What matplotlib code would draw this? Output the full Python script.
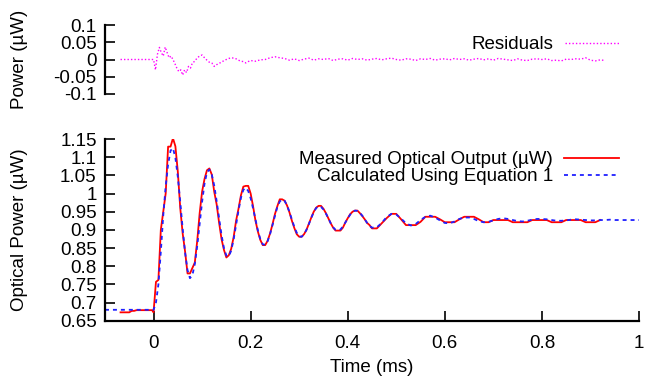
import matplotlib
matplotlib.use('Agg')
import matplotlib.pyplot as plt

plt.rcParams['font.family'] = ['Liberation Sans', 'DejaVu Sans']
plt.rcParams['font.size'] = 13.5

# measured optical output (uW)
t_meas = [-0.068, -0.06, -0.05, -0.045, -0.04, -0.035, -0.03, -0.02, -0.01, -0.003, 0.0,
          0.005, 0.01, 0.015, 0.02, 0.025, 0.03, 0.035, 0.04, 0.045, 0.05, 0.055, 0.06,
          0.065, 0.07, 0.075, 0.08, 0.085, 0.09, 0.095, 0.10, 0.105, 0.11, 0.115, 0.12,
          0.125, 0.13, 0.135, 0.14, 0.145, 0.15, 0.155, 0.16, 0.165, 0.17, 0.175, 0.18,
          0.185, 0.19, 0.195, 0.20, 0.205, 0.21, 0.215, 0.22, 0.225, 0.23, 0.235, 0.24,
          0.245, 0.25, 0.255, 0.26, 0.265, 0.27, 0.275, 0.28, 0.285, 0.29, 0.295, 0.30,
          0.305, 0.31, 0.315, 0.32, 0.325, 0.33, 0.335, 0.34, 0.345, 0.35, 0.355, 0.36,
          0.365, 0.37, 0.375, 0.38, 0.385, 0.39, 0.395, 0.40, 0.405, 0.41, 0.415, 0.42,
          0.425, 0.43, 0.435, 0.44, 0.445, 0.45, 0.455, 0.46, 0.47, 0.48, 0.49, 0.50,
          0.51, 0.52, 0.53, 0.54, 0.55, 0.56, 0.57, 0.58, 0.59, 0.60, 0.61, 0.62, 0.63,
          0.64, 0.65, 0.66, 0.67, 0.68, 0.69, 0.70, 0.71, 0.72, 0.73, 0.74, 0.75, 0.76,
          0.77, 0.78, 0.79, 0.80, 0.81, 0.82, 0.83, 0.84, 0.85, 0.86, 0.87, 0.88, 0.89,
          0.90, 0.91, 0.92]
p_meas = [0.673, 0.673, 0.673, 0.677, 0.677, 0.679, 0.679, 0.679, 0.679, 0.679, 0.673,
          0.757, 0.762, 0.90, 0.95, 1.00, 1.129, 1.129, 1.152, 1.13, 1.06, 0.96, 0.89,
          0.84, 0.78, 0.78, 0.795, 0.81, 0.87, 0.946, 1.005, 1.04, 1.064, 1.069, 1.052,
          1.005, 0.97, 0.92, 0.875, 0.845, 0.824, 0.83, 0.848, 0.88, 0.925, 0.958, 0.995,
          1.019, 1.021, 1.021, 1.0, 0.965, 0.925, 0.895, 0.872, 0.858, 0.858, 0.87, 0.89,
          0.915, 0.943, 0.965, 0.984, 0.984, 0.98, 0.967, 0.948, 0.925, 0.905, 0.888, 0.881,
          0.881, 0.888, 0.90, 0.917, 0.934, 0.95, 0.961, 0.966, 0.966, 0.958, 0.946, 0.932,
          0.918, 0.906, 0.898, 0.898, 0.898, 0.906, 0.92, 0.932, 0.943, 0.95, 0.953, 0.953,
          0.946, 0.938, 0.929, 0.919, 0.913, 0.904, 0.904, 0.904, 0.918, 0.932, 0.944, 0.944,
          0.929, 0.913, 0.913, 0.913, 0.922, 0.936, 0.936, 0.936, 0.929, 0.921, 0.921, 0.921, 0.929,
          0.936, 0.936, 0.936, 0.929, 0.921, 0.921, 0.927, 0.927, 0.927, 0.927, 0.921, 0.921, 0.921,
          0.921, 0.927, 0.927, 0.927, 0.927, 0.921, 0.921, 0.921, 0.927, 0.927, 0.927, 0.927, 0.921,
          0.921, 0.921, 0.927]

# curve calculated with equation 1
t_calc = [-0.1, 0.0, 0.005, 0.01, 0.015, 0.02, 0.025, 0.03, 0.035, 0.04, 0.045, 0.05,
          0.055, 0.06, 0.065, 0.07, 0.075, 0.08, 0.085, 0.09, 0.095, 0.10, 0.105, 0.11,
          0.115, 0.12, 0.125, 0.13, 0.135, 0.14, 0.145, 0.15, 0.155, 0.16, 0.165, 0.17,
          0.175, 0.18, 0.185, 0.19, 0.195, 0.20, 0.205, 0.21, 0.215, 0.22, 0.225, 0.23,
          0.235, 0.24, 0.245, 0.25, 0.255, 0.26, 0.265, 0.27, 0.275, 0.28, 0.285, 0.29,
          0.295, 0.30, 0.305, 0.31, 0.315, 0.32, 0.325, 0.33, 0.335, 0.34, 0.345, 0.35,
          0.355, 0.36, 0.365, 0.37, 0.375, 0.38, 0.385, 0.39, 0.395, 0.40, 0.405, 0.41,
          0.415, 0.42, 0.425, 0.43, 0.435, 0.44, 0.445, 0.45, 0.46, 0.47, 0.48, 0.49,
          0.50, 0.51, 0.52, 0.53, 0.54, 0.55, 0.56, 0.57, 0.58, 0.59, 0.60, 0.61, 0.62,
          0.63, 0.64, 0.65, 0.66, 0.67, 0.68, 0.69, 0.70, 0.71, 0.72, 0.73, 0.74, 0.75,
          0.76, 0.77, 0.78, 0.79, 0.80, 0.81, 0.82, 0.83, 0.84, 0.85, 0.86, 0.87, 0.88,
          0.89, 0.90, 0.91, 0.92, 0.93, 0.94, 0.95, 0.96, 0.97, 0.98, 0.99, 1.0]
p_calc = [0.68, 0.68, 0.70, 0.75, 0.84, 0.94, 1.02, 1.08, 1.118, 1.125, 1.098, 1.046,
          0.977, 0.903, 0.837, 0.789, 0.767, 0.775, 0.806, 0.856, 0.917, 0.977, 1.027, 1.058,
          1.066, 1.052, 1.022, 0.979, 0.932, 0.886, 0.85, 0.829, 0.827, 0.843, 0.874, 0.913,
          0.953, 0.988, 1.010, 1.016, 1.007, 0.987, 0.959, 0.928, 0.898, 0.874, 0.860, 0.859,
          0.869, 0.888, 0.913, 0.939, 0.963, 0.978, 0.984, 0.980, 0.967, 0.949, 0.928, 0.908,
          0.892, 0.882, 0.881, 0.888, 0.900, 0.916, 0.933, 0.949, 0.960, 0.965, 0.963, 0.956,
          0.945, 0.932, 0.918, 0.907, 0.900, 0.898, 0.901, 0.909, 0.920, 0.931, 0.942, 0.950,
          0.953, 0.952, 0.947, 0.939, 0.929, 0.919, 0.911, 0.906, 0.907, 0.919, 0.935, 0.944,
          0.942, 0.931, 0.918, 0.912, 0.916, 0.927, 0.936, 0.939, 0.934, 0.926, 0.919, 0.918, 0.923,
          0.930, 0.934, 0.934, 0.930, 0.924, 0.921, 0.922, 0.926, 0.930, 0.932, 0.930, 0.927, 0.924,
          0.923, 0.925, 0.928, 0.930, 0.930, 0.929, 0.927, 0.925, 0.925, 0.926, 0.928, 0.929, 0.928,
          0.927, 0.926, 0.926, 0.927, 0.927, 0.928, 0.927, 0.927, 0.927, 0.927, 0.927, 0.927]

# residuals (uW)
t_res = [-0.068, -0.03, 0.0, 0.004, 0.008, 0.012, 0.016, 0.02, 0.024, 0.028, 0.032, 0.036,
         0.04, 0.044, 0.048, 0.052, 0.056, 0.06, 0.064, 0.068, 0.072, 0.076, 0.08, 0.085,
         0.09, 0.095, 0.10, 0.105, 0.11, 0.115, 0.12, 0.125, 0.13, 0.135, 0.14, 0.145,
         0.15, 0.155, 0.16, 0.165, 0.17, 0.175, 0.18, 0.185, 0.19, 0.195, 0.20, 0.21,
         0.22, 0.23, 0.24, 0.25, 0.26, 0.27, 0.28, 0.29, 0.30, 0.31, 0.32, 0.33, 0.34,
         0.35, 0.36, 0.37, 0.38, 0.39, 0.40, 0.41, 0.42, 0.43, 0.44, 0.45, 0.46, 0.47,
         0.48, 0.49, 0.50, 0.51, 0.52, 0.53, 0.54, 0.55, 0.56, 0.57, 0.58, 0.59, 0.60,
         0.61, 0.62, 0.63, 0.64, 0.65, 0.66, 0.67, 0.68, 0.69, 0.70, 0.71, 0.72, 0.73,
         0.74, 0.75, 0.76, 0.77, 0.78, 0.79, 0.80, 0.81, 0.82, 0.83, 0.84, 0.85, 0.86,
         0.87, 0.88, 0.89, 0.90, 0.91, 0.92, 0.93]
p_res = [0.0, 0.0, 0.0, -0.03, 0.015, 0.035, 0.02, 0.01, 0.036, 0.02, 0.005, 0.01,
         0.0, -0.012, -0.025, -0.035, -0.03, -0.045, -0.03, -0.038, -0.02, -0.025, -0.01, -0.005,
         0.005, 0.01, 0.013, 0.005, -0.002, -0.008, -0.01, -0.02, -0.015, -0.011, -0.008, -0.003,
         0.0, 0.003, 0.005, 0.004, 0.002, -0.002, -0.005, -0.006, -0.01, -0.006, -0.003, -0.005,
         -0.001, 0.0, 0.005, 0.008, 0.005, 0.003, -0.002, 0.002, -0.003, 0.001, 0.004, -0.002, 0.002,
         0.0, 0.003, -0.003, 0.001, 0.002, -0.002, 0.003, 0.0, 0.002, -0.002, 0.001, 0.003, -0.001,
         0.002, 0.004, 0.0, -0.002, 0.002, 0.001, -0.003, 0.002, 0.0, 0.003, -0.002, 0.001, 0.002,
         -0.001, 0.003, 0.0, 0.002, -0.002, 0.001, 0.003, -0.001, 0.002, -0.002, 0.003, 0.001, -0.001,
         -0.003, 0.002, -0.002, -0.003, 0.001, 0.002, 0.0, 0.002, -0.003, -0.002, -0.004, 0.001, 0.0,
         0.002, 0.001, 0.005, -0.002, -0.004, -0.001, -0.003]

x_ticks = [0, 0.2, 0.4, 0.6, 0.8, 1]
x_ticklabels = ['0', '0.2', '0.4', '0.6', '0.8', '1']
y_ticks = [0.65, 0.7, 0.75, 0.8, 0.85, 0.9, 0.95, 1.0, 1.05, 1.1, 1.15]
y_ticklabels = ['0.65', '0.7', '0.75', '0.8', '0.85', '0.9', '0.95', '1', '1.05', '1.1', '1.15']
r_ticks = [-0.1, -0.05, 0, 0.05, 0.1]
r_ticklabels = ['-0.1', '-0.05', '0', '0.05', '0.1']

fig = plt.figure(figsize=(6.47, 3.77), dpi=100)
ax = fig.add_axes([105 / 647, 56.3 / 377, 534 / 647, 181.7 / 377])
axr = fig.add_axes([105 / 647, 283 / 377, 534 / 647, 69 / 377])

# main panel
ax.plot(t_meas, p_meas, color='#ff0000', lw=1.3, label=u'Measured Optical Output (\u00b5W)')
ax.plot(t_calc, p_calc, color='#2020ff', lw=1.3, linestyle=(0, (2.2, 2.2)),
        label='Calculated Using Equation 1')
ax.set_xlim(-0.1, 1.0)
ax.set_ylim(0.65, 1.15)
ax.set_xticks(x_ticks)
ax.set_xticklabels(x_ticklabels)
ax.set_yticks(y_ticks)
ax.set_yticklabels(y_ticklabels)
ax.set_xlabel('Time (ms)')
ax.set_ylabel(u'Optical Power (\u00b5W)')
ax.yaxis.set_label_coords(-0.145, 0.5)
ax.xaxis.set_label_coords(0.5, -0.21)
for s in ['top', 'right']:
    ax.spines[s].set_visible(False)
for s in ['left', 'bottom']:
    ax.spines[s].set_linewidth(1.6)
ax.tick_params(direction='in', length=7, width=1.2, pad=6)
ax.tick_params(axis='x', pad=10)
ax.legend(loc='upper right', bbox_to_anchor=(0.983, 0.996), frameon=False,
          markerfirst=False, handlelength=2.9, labelspacing=0.0, handletextpad=0.6,
          borderaxespad=0.2)

# residuals panel
axr.plot(t_res, p_res, color='#ff00ff', lw=1.0, linestyle=(0, (1, 1.5)), label='Residuals')
axr.set_xlim(-0.1, 1.0)
axr.set_ylim(-0.1, 0.1)
axr.set_yticks(r_ticks)
axr.set_yticklabels(r_ticklabels)
axr.set_xticks([])
axr.set_ylabel(u'Power (\u00b5W)')
axr.yaxis.set_label_coords(-0.145, 0.5)
for s in ['top', 'right', 'bottom']:
    axr.spines[s].set_visible(False)
axr.spines['left'].set_linewidth(1.6)
axr.tick_params(direction='in', length=7, width=1.2, pad=6)
axr.legend(loc='upper right', bbox_to_anchor=(0.984, 1.0), frameon=False,
           markerfirst=False, handlelength=2.9, handletextpad=0.6, borderaxespad=0.2)

fig.savefig('out.png', dpi=100)
